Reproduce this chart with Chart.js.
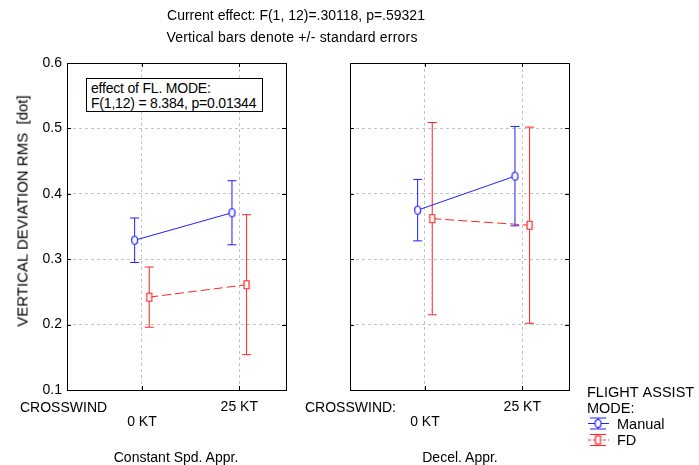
<!DOCTYPE html>
<html>
<head>
<meta charset="utf-8">
<script src="https://cdn.jsdelivr.net/npm/chart.js@4.4.1/dist/chart.umd.min.js"></script>
<style>
body { margin: 0; background: #fff; }
#wrap { position: relative; width: 699px; height: 465px; font-family: "Liberation Sans", Arial, sans-serif; color: #000; overflow: hidden; }
canvas { position: absolute; left: 0; top: 0; }
.t { position: absolute; white-space: nowrap; font-size: 14px; line-height: 1; }
.c { transform: translate(-50%, -50%); }
.m { transform: translateY(-50%); }
#ytitle { transform: translate(-50%, -50%) rotate(-90deg); font-size: 15px; }
#effect { position: absolute; left: 86px; top: 78px; width: 177px; height: 34px; border: 1px solid #000; background: #fff; font-size: 14px; line-height: 15px; padding: 2px 0 0 4px; box-sizing: border-box; white-space: nowrap; letter-spacing: -0.2px; }
</style>
</head>
<body>
<div id="wrap">
  <canvas id="leftChart" width="699" height="465"></canvas>
  <canvas id="rightChart" width="699" height="465"></canvas>
  <div class="t c" style="left:296px;top:15px">Current effect: F(1, 12)=.30118, p=.59321</div>
  <div class="t c" style="left:292px;top:37px;letter-spacing:0.2px">Vertical bars denote +/- standard errors</div>
  <div class="t" id="ytitle" style="left:22px;top:211px">VERTICAL DEVIATION RMS&nbsp;&nbsp;[dot]</div>
  <div class="t m" style="left:20px;top:407px">CROSSWIND</div>
  <div class="t m" style="left:305px;top:407px">CROSSWIND:</div>
  <div class="t c" style="left:176px;top:457px">Constant Spd. Appr.</div>
  <div class="t c" style="left:460px;top:457px">Decel. Appr.</div>
  <div id="effect">effect of FL. MODE:<br>F(1,12) = 8.384, p=0.01344</div>
</div>
<script>
// crosswind levels and panels
const crosswind = ["0 KT", "25 KT"];
const yTicks = [0.1, 0.2, 0.3, 0.4, 0.5, 0.6];
const legendTitle = ["FLIGHT ASSIST", "MODE:"];

// means and standard errors
const manualConst = [0.329, 0.371];
const manualConstSE = [0.034, 0.049];
const fdConst = [0.242, 0.261];
const fdConstSE = [0.046, 0.107];

const manualDecel = [0.375, 0.427];
const manualDecelSE = [0.047, 0.076];
const fdDecel = [0.362, 0.352];
const fdDecelSE = [0.147, 0.150];

const BLUE = "#1f1fff";
const RED = "#ff2424";
const OFFSET = 0.075;

Chart.defaults.font.family = '"Liberation Sans", Arial, sans-serif';
Chart.defaults.font.size = 14;
Chart.defaults.color = "#000";

const makeMarker = (shape, color) => {
    const c = document.createElement("canvas");
    c.width = 9;
    c.height = 11;
    const g = c.getContext("2d");
    g.fillStyle = "#fff";
    g.strokeStyle = color;
    g.lineWidth = 1.2;
    g.beginPath();
    if (shape === "circle") {
        g.ellipse(4.5, 5.5, 3, 4, 0, 0, Math.PI * 2);
    } else {
        g.rect(2, 1.5, 5, 8);
    }
    g.fill();
    g.stroke();
    return c;
};
const circleMarker = makeMarker("circle", BLUE);
const rectMarker = makeMarker("rect", RED);

const points = (means, shift) => means.map((m, i) => ({ x: i + shift, y: m }));
const errPoints = (means, se, shift) => {
    const out = [];
    means.forEach((m, i) => {
        out.push({ x: i + shift, y: m - se[i] }, { x: i + shift, y: m + se[i] }, { x: i + shift, y: null });
    });
    return out;
};

const buildDatasets = (manual, manualSE, fd, fdSE) => [
    {
        label: "Manual",
        data: points(manual, -OFFSET),
        borderColor: BLUE,
        borderWidth: 1,
        pointStyle: circleMarker,
        pointRadius: 4,
        order: 0,
    },
    {
        label: "FD",
        data: points(fd, OFFSET),
        borderColor: RED,
        borderWidth: 1,
        borderDash: [9, 4],
        pointStyle: rectMarker,
        pointRadius: 4,
        order: 1,
    },
    {
        label: "Manual SE",
        data: errPoints(manual, manualSE, -OFFSET),
        borderColor: BLUE,
        borderWidth: 1,
        pointStyle: "line",
        pointRadius: 4.5,
        pointBorderColor: BLUE,
        pointBorderWidth: 1,
        spanGaps: false,
        order: 2,
    },
    {
        label: "FD SE",
        data: errPoints(fd, fdSE, OFFSET),
        borderColor: RED,
        borderWidth: 1,
        pointStyle: "line",
        pointRadius: 4.5,
        pointBorderColor: RED,
        pointBorderWidth: 1,
        spanGaps: false,
        order: 3,
    },
];

// box around plot area with small inward ticks
const framePlugin = {
    id: "frame",
    afterDraw(chart) {
        const { ctx, chartArea: a, scales } = chart;
        ctx.save();
        ctx.strokeStyle = "#000";
        ctx.lineWidth = 1;
        ctx.strokeRect(Math.round(a.left) + 0.5, Math.round(a.top) + 0.5, Math.round(a.right - a.left), Math.round(a.bottom - a.top));
        ctx.beginPath();
        yTicks.forEach((v) => {
            const y = Math.round(scales.y.getPixelForValue(v)) + 0.5;
            ctx.moveTo(a.left, y); ctx.lineTo(a.left + 4, y);
            ctx.moveTo(a.right, y); ctx.lineTo(a.right - 4, y);
        });
        crosswind.forEach((_, i) => {
            const x = Math.round(scales.x.getPixelForValue(i)) + 0.5;
            ctx.moveTo(x, a.bottom); ctx.lineTo(x, a.bottom - 4);
            ctx.moveTo(x, a.top); ctx.lineTo(x, a.top + 4);
        });
        ctx.stroke();
        ctx.restore();
    },
};

const legendPlugin = {
    id: "modeLegend",
    afterDraw(chart) {
        const ctx = chart.ctx;
        ctx.save();
        ctx.font = '14.5px "Liberation Sans", Arial, sans-serif';
        ctx.fillStyle = "#000";
        ctx.textBaseline = "middle";
        ctx.fillText(legendTitle[0], 587, 393);
        ctx.fillText(legendTitle[1], 587, 409);
        const items = [
            { label: "Manual", color: BLUE, marker: circleMarker, dash: [] },
            { label: "FD", color: RED, marker: rectMarker, dash: [3, 2] },
        ];
        items.forEach((it, i) => {
            const y = 423.5 + i * 16.5;
            ctx.strokeStyle = it.color;
            ctx.lineWidth = 1;
            ctx.beginPath();
            ctx.moveTo(590, y - 5.5); ctx.lineTo(606, y - 5.5);
            ctx.moveTo(590, y + 5.5); ctx.lineTo(606, y + 5.5);
            ctx.moveTo(598, y - 5.5); ctx.lineTo(598, y + 5.5);
            ctx.stroke();
            ctx.setLineDash(it.dash);
            ctx.beginPath();
            ctx.moveTo(588, y); ctx.lineTo(609, y);
            ctx.stroke();
            ctx.setLineDash([]);
            ctx.drawImage(it.marker, 598 - 4.5, y - 5.5);
            ctx.fillStyle = "#000";
            ctx.fillText(it.label, 617, y + 1);
        });
        ctx.restore();
    },
};

const sendOptions = (isLeft) => ({
    responsive: false,
    animation: false,
    devicePixelRatio: 1,
    layout: {
        padding: { left: 0, top: 63, right: isLeft ? 413 : 130, bottom: 0 },
    },
    plugins: {
        legend: { display: false },
        tooltip: { enabled: false },
    },
    scales: {
        x: {
            type: "linear",
            min: -0.77,
            max: 1.48,
            afterBuildTicks: (scale) => {
                scale.ticks = crosswind.map((_, i) => ({ value: i }));
            },
            afterFit: (scale) => {
                scale.height = 75;
            },
            grid: {
                color: "#c4c4c4",
                drawTicks: false,
            },
            border: { display: false, dash: [3, 3] },
            ticks: {
                padding: 9,
                autoSkip: false,
                maxRotation: 0,
                font: { size: 14, lineHeight: 1.1 },
                callback: (value, index) => (index === 0 ? ["", crosswind[index]] : crosswind[index]),
            },
        },
        y: {
            type: "linear",
            min: 0.1,
            max: 0.6,
            afterBuildTicks: (scale) => {
                scale.ticks = yTicks.map((v) => ({ value: v }));
            },
            afterFit: (scale) => {
                scale.width = isLeft ? 67 : 350;
            },
            grid: {
                color: (ctx) => (ctx.tick && (ctx.tick.value <= 0.1001 || ctx.tick.value >= 0.5999) ? "rgba(0,0,0,0)" : "#c4c4c4"),
                drawTicks: false,
            },
            border: { display: false, dash: [3, 3] },
            ticks: {
                display: isLeft,
                padding: 5,
                font: { size: 14 },
                callback: (value) => Number(value).toFixed(1),
            },
        },
    },
});

new Chart(document.getElementById("leftChart").getContext("2d"), {
    type: "line",
    data: { datasets: buildDatasets(manualConst, manualConstSE, fdConst, fdConstSE) },
    options: sendOptions(true),
    plugins: [framePlugin],
});

new Chart(document.getElementById("rightChart").getContext("2d"), {
    type: "line",
    data: { datasets: buildDatasets(manualDecel, manualDecelSE, fdDecel, fdDecelSE) },
    options: sendOptions(false),
    plugins: [framePlugin, legendPlugin],
});
</script>
</body>
</html>
